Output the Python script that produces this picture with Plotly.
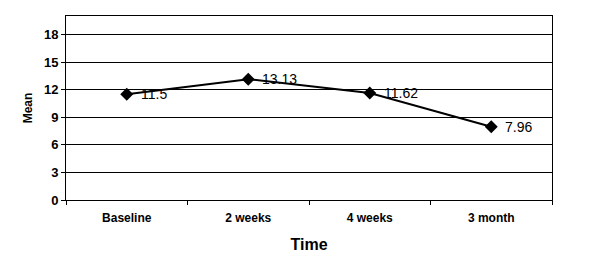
import plotly.graph_objects as go

categories = ["Baseline", "2 weeks", "4 weeks", "3 month"]
means = [11.5, 13.13, 11.62, 7.96]
labels = ["11.5", "13.13", "11.62", "7.96"]
y_ticks = [0, 3, 6, 9, 12, 15, 18]

font_family = "Liberation Sans, Arial, sans-serif"

fig = go.Figure()
fig.add_trace(go.Scatter(
    x=categories, y=means, mode="lines+markers",
    line=dict(color="black", width=2),
    marker=dict(symbol="diamond", size=10, color="black"),
    cliponaxis=False,
))

for c, v, t in zip(categories, means, labels):
    fig.add_annotation(
        x=c, y=v, text=t, showarrow=False, xanchor="left", yanchor="middle",
        xshift=12, font=dict(family=font_family, size=14, color="black"),
    )

# The page body has an 8px margin, so the figure is sized to fit the 600x274 window.
fig.update_layout(
    width=584, height=258,
    margin=dict(l=58, r=40, t=8, b=66, autoexpand=False),
    paper_bgcolor="white", plot_bgcolor="white",
    showlegend=False,
    font=dict(family=font_family, color="black"),
    xaxis=dict(
        type="category", range=[-0.5, 3.5], automargin=False,
        tickson="boundaries", ticks="outside", ticklen=4, tickcolor="black",
        ticklabelstandoff=7,
        showline=True, linecolor="black", linewidth=1, mirror=True,
        showgrid=False,
        tickfont=dict(family=font_family, size=12, color="black", weight="bold"),
        title=dict(text="Time", font=dict(family=font_family, size=16, color="black", weight="bold"), standoff=14),
    ),
    yaxis=dict(
        range=[0, 20], tickvals=y_ticks, automargin=False,
        ticks="outside", ticklen=4, tickcolor="black",
        showline=True, linecolor="black", linewidth=1, mirror=True,
        showgrid=True, gridcolor="black", gridwidth=1,
        zeroline=False,
        tickfont=dict(family=font_family, size=13, color="black", weight="bold"),
        title=dict(text="Mean", font=dict(family=font_family, size=12, color="black", weight="bold"), standoff=8),
    ),
)

fig.write_html("out.html")
